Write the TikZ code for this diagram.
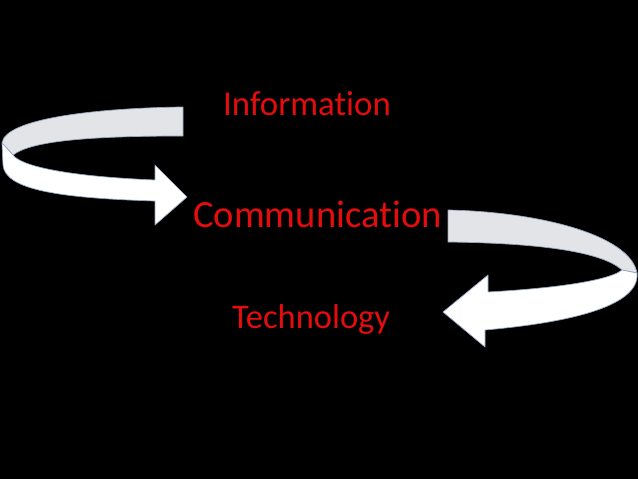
\documentclass[tikz,border=0pt]{standalone}
\usepackage{fontspec}
\setmainfont{Carlito}[Ligatures=NoCommon]
\definecolor{txtred}{RGB}{228,12,12}
\definecolor{bandback}{RGB}{226,228,232}
\definecolor{bandedge}{RGB}{150,165,190}
\tikzset{
  lbl/.style={anchor=base west, inner sep=0pt, text=txtred},
  backband/.style={fill=bandback, draw=bandedge, line width=0.7pt, line join=round},
  frontband/.style={fill=white, draw=bandedge, line width=0.7pt, line join=round}
}
\begin{document}
\begin{tikzpicture}[x=1pt,y=-1pt]
\fill[black] (0,0) rectangle (638,479);
\useasboundingbox (0,0) rectangle (638,479);
% left arrow
\draw[backband] (183,107) .. controls (100,108) and (5,118) .. (2,143) -- (13,155)
  .. controls (30,142) and (80,136) .. (183,136) -- cycle;
\draw[frontband] (2,143) -- (13,155) .. controls (20,165) and (60,176) .. (155,180)
  -- (155,165) -- (187,197) -- (155,225) -- (155,201)
  .. controls (60,198) and (5,190) .. (3,165) -- cycle;
% right arrow
\draw[backband] (448,210) .. controls (540,212) and (630,235) .. (637,273) -- (622,270)
  .. controls (600,250) and (530,243) .. (448,242) -- cycle;
\draw[frontband] (637,273) -- (622,270) .. controls (610,280) and (560,288) .. (488,292)
  -- (488,275) -- (443,312) -- (485,347) -- (485,330)
  .. controls (575,322) and (640,305) .. cycle;
% texts
\node[lbl, font=\fontsize{34.8}{40}\selectfont] (info) at (223,115) {Information};
\node[lbl, font=\fontsize{38.6}{44}\selectfont] (comm) at (193,227) {Communication};
\node[lbl, font=\fontsize{34.5}{40}\selectfont] (tech) at (232,328) {Technology};
\end{tikzpicture}
\end{document}
